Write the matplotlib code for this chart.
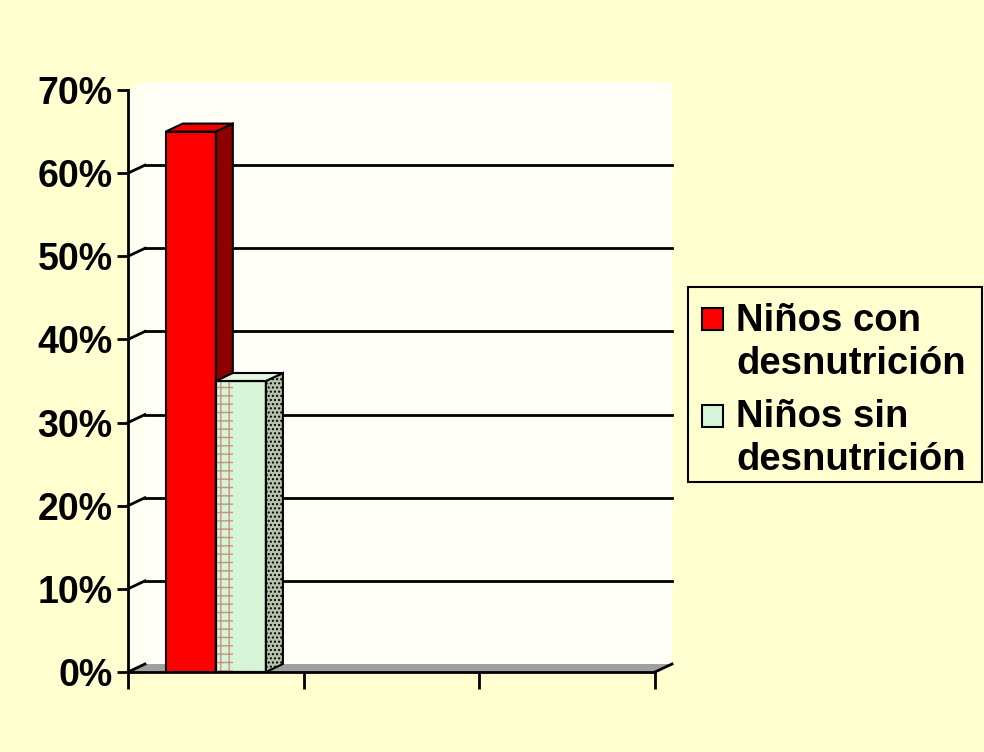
#recreate the 3D-looking column chart (Excel style)
import numpy as np
import matplotlib.pyplot as plt
from matplotlib.patches import Polygon, Rectangle

#data
series = ['Niños con\ndesnutrición', 'Niños sin\ndesnutrición']
values = [65, 35]
front_colors = ['#ff0000', '#d6f5d6']
side_colors = ['#8e0000', '#b5c4a8']
top_colors = ['#ee0000', '#e4f7e0']
yticks = [0, 10, 20, 30, 40, 50, 60, 70]
ytick_labels = ['0%', '10%', '20%', '30%', '40%', '50%', '60%', '70%']
n_cat = 3

plt.rcParams['font.family'] = ['Liberation Sans', 'DejaVu Sans']
plt.rcParams['font.weight'] = 'bold'

W, H = 984, 752
bg = '#ffffd0'
fig = plt.figure(figsize=(W / 100, H / 100), dpi=100, facecolor=bg)
ax = fig.add_axes([128 / W, 80 / H, 527 / W, 582 / H])
ax.set_xlim(0, n_cat)
ax.set_ylim(0, 70)
ax.patch.set_visible(False)

#depth offset of the 3d effect, in data units
dx = 17 / (527 / n_cat)
dy = 8 / (582 / 70)
ymax = yticks[-1]

#walls
ax.add_patch(Polygon([(dx, dy), (n_cat + dx, dy), (n_cat + dx, ymax + dy), (dx, ymax + dy)],
                     closed=True, fc='#fffff8', ec='none', zorder=0, clip_on=False))
ax.add_patch(Polygon([(0, 0), (dx, dy), (dx, ymax + dy), (0, ymax)],
                     closed=True, fc='#fffff2', ec='none', zorder=0, clip_on=False))
#floor
ax.add_patch(Polygon([(0, 0), (n_cat, 0), (n_cat + dx, dy), (dx, dy)],
                     closed=True, fc='#a0a0a0', ec='none', zorder=1, clip_on=False))
ax.plot([n_cat, n_cat + dx], [0, dy], color='k', lw=2, clip_on=False, zorder=1)

#gridlines
for y in yticks[:-1]:
    ax.plot([0, dx], [y, y + dy], color='k', lw=2, clip_on=False, zorder=1)
    if y > 0:
        ax.plot([dx, n_cat + dx], [y + dy, y + dy], color='k', lw=2, clip_on=False, zorder=1)

#bars
w = 0.285
lefts = [0.5 - w, 0.5]
for i, v in enumerate(values):
    x0 = lefts[i]
    z = 3 + i
    ax.bar(x0, v, width=w, align='edge', color=front_colors[i], edgecolor='k', lw=1.5, zorder=z)
    ax.add_patch(Polygon([(x0 + w, 0), (x0 + w + dx, dy), (x0 + w + dx, v + dy), (x0 + w, v)],
                         closed=True, fc=side_colors[i], ec='k', lw=1.5, zorder=z,
                         hatch='....' if i == 1 else None))
    ax.add_patch(Polygon([(x0, v), (x0 + w, v), (x0 + w + dx, v + dy), (x0 + dx, v + dy)],
                         closed=True, fc=top_colors[i], ec='k', lw=1.5, zorder=z))
    if i == 1:
        #checkered strip where the red side shows through
        ax.add_patch(Rectangle((x0, 0), dx, v, fc='none', ec='#c89080', lw=0,
                               hatch='++', zorder=z))
        ax.add_patch(Rectangle((x0, 0), w, v, fc='none', ec='k', lw=1.5, zorder=z))

#axes
for s in ['top', 'right']:
    ax.spines[s].set_visible(False)
for s in ['left', 'bottom']:
    ax.spines[s].set_linewidth(2)
    ax.spines[s].set_zorder(6)
ax.set_yticks(yticks)
ax.set_yticklabels(ytick_labels)
ax.set_xticks(np.arange(n_cat + 1))
ax.set_xticklabels([])
ax.tick_params(axis='y', direction='out', length=8, width=2, labelsize=27, pad=3)
ax.tick_params(axis='x', direction='out', length=12, width=2)

#legend
fig.patches.append(Rectangle((688 / W, 1 - 482 / H), 294 / W, 195 / H, transform=fig.transFigure,
                             fc=bg, ec='k', lw=1.5))
sq_tops = [308, 405]
txt_tops = [303, 399]
for i, lab in enumerate(series):
    fig.patches.append(Rectangle((702 / W, 1 - (sq_tops[i] + 22) / H), 21 / W, 22 / H,
                                 transform=fig.transFigure, fc=front_colors[i], ec='k', lw=1.5))
    fig.text(736 / W, 1 - txt_tops[i] / H, lab, fontsize=27.5, fontweight='bold',
             va='top', ha='left', linespacing=1.25)

fig.savefig('out.png', dpi=100, facecolor=bg)
